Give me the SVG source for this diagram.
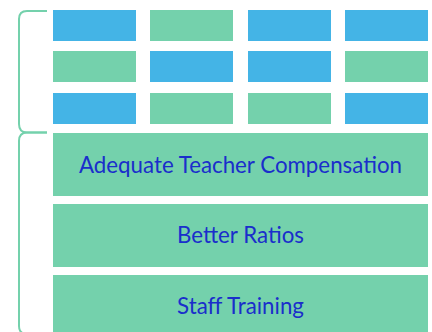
<svg xmlns="http://www.w3.org/2000/svg" width="432" height="332" viewBox="0 0 432 332">
<style>
.b{fill:#44B4E6}
.g{fill:#74D1AC}
.t{font-family:Lato,"Open Sans",sans-serif;font-size:22.3px;fill:#1A2ECB;text-anchor:middle}
.br{fill:none;stroke:#74D1AC;stroke-width:2}
</style>
<rect width="432" height="332" fill="#FFFFFF"/>
<g id="connectors">
<path class="br" d="M47,11 H27 Q19,11 19,19 V124 Q19,132.5 27,132.5 H47"/>
<path class="br" d="M47,132.5 H27 Q19,132.5 19,141 V326 Q19,334 27,334"/>
</g>
<g id="grid">
<rect id="c11" class="b" x="53" y="10" width="83" height="31"/>
<rect id="c12" class="g" x="150" y="10" width="83" height="31"/>
<rect id="c13" class="b" x="248" y="10" width="83" height="31"/>
<rect id="c14" class="b" x="345" y="10" width="83" height="31"/>
<rect id="c21" class="g" x="53" y="51" width="83" height="31"/>
<rect id="c22" class="b" x="150" y="51" width="83" height="31"/>
<rect id="c23" class="b" x="248" y="51" width="83" height="31"/>
<rect id="c24" class="g" x="345" y="51" width="83" height="31"/>
<rect id="c31" class="b" x="53" y="93" width="83" height="31"/>
<rect id="c32" class="g" x="150" y="93" width="83" height="31"/>
<rect id="c33" class="g" x="248" y="93" width="83" height="31"/>
<rect id="c34" class="b" x="345" y="93" width="83" height="31"/>
</g>
<g id="compensation">
<rect class="g" x="53" y="133" width="375" height="63"/>
<text class="t" x="240.5" y="173">Adequate Teacher Compensation</text>
</g>
<g id="ratios">
<rect class="g" x="53" y="204" width="375" height="63"/>
<text class="t" x="240.5" y="243">Better Ratios</text>
</g>
<g id="training">
<rect class="g" x="53" y="275" width="375" height="63"/>
<text class="t" x="240.5" y="314">Staff Training</text>
</g>
</svg>
